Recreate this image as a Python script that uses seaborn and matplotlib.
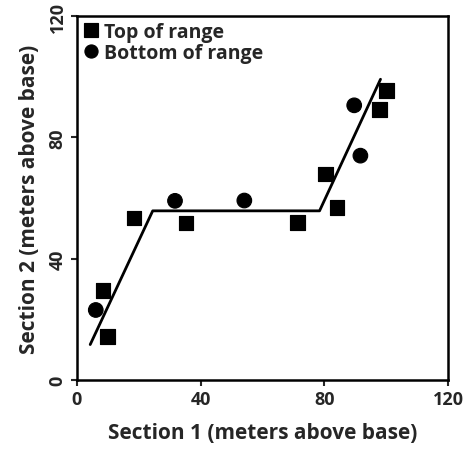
import pandas as pd
import numpy as np
import matplotlib
matplotlib.use("Agg")
import matplotlib.pyplot as plt
import seaborn as sns

# Data
top_x = [8.5, 9.9, 18.4, 35.3, 71.3, 80.3, 84.0, 97.8, 100.0]
top_y = [29.6, 14.4, 53.4, 51.8, 52.0, 67.9, 56.9, 89.2, 95.5]
bottom_x = [6.1, 31.7, 54.1, 89.6, 91.6]
bottom_y = [23.1, 59.1, 59.2, 90.6, 74.0]
line_x = [4.3, 24.5, 78.4, 98.1]
line_y = [11.7, 55.8, 55.8, 99.2]
ticks = [0, 40, 80, 120]

df = pd.DataFrame({
    "s1": top_x + bottom_x,
    "s2": top_y + bottom_y,
    "kind": ["Top of range"] * len(top_x) + ["Bottom of range"] * len(bottom_x),
})

sns.set_style("ticks")
plt.rcParams["font.family"] = ["Open Sans", "DejaVu Sans"]
plt.rcParams["font.weight"] = "bold"

fig, ax = plt.subplots(figsize=(4.66, 4.52), dpi=100)
fig.subplots_adjust(left=0.165, right=0.962, top=0.962, bottom=0.157)

sns.lineplot(x=line_x, y=line_y, color="black", linewidth=2, ax=ax, sort=False)
sns.scatterplot(data=df, x="s1", y="s2", style="kind", hue="kind",
                markers={"Top of range": "s", "Bottom of range": "o"},
                palette={"Top of range": "black", "Bottom of range": "black"},
                s=110, edgecolor="black", ax=ax, zorder=3)

ax.set_xlim(0, 120)
ax.set_ylim(0, 120)
ax.set_xticks(ticks)
ax.set_yticks(ticks)
ax.tick_params(axis="both", labelsize=13, width=1.5, length=4)
for lab in ax.get_yticklabels():
    lab.set_rotation(90)
    lab.set_va("center")
ax.set_xlabel("Section 1 (meters above base)", fontsize=15, fontweight="bold", labelpad=10)
ax.set_ylabel("Section 2 (meters above base)", fontsize=15, fontweight="bold", labelpad=6)
for sp in ax.spines.values():
    sp.set_linewidth(1.8)
    sp.set_color("black")

ax.legend(loc="upper left", frameon=False, fontsize=14, handletextpad=0.3,
          borderaxespad=0.1, labelspacing=0.05, markerscale=0.9,
          borderpad=0.2, handlelength=0.8)

fig.savefig("out.png", dpi=100)
